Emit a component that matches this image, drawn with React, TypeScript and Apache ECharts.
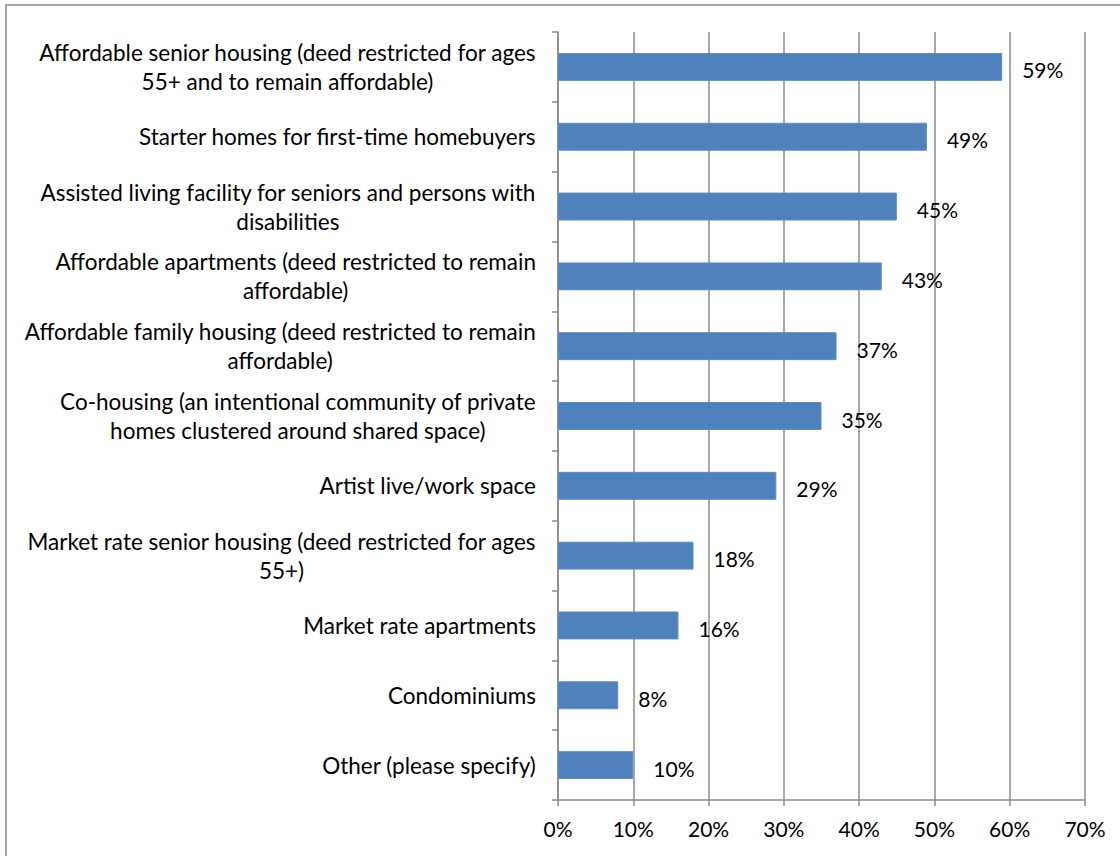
import React, { useEffect, useRef } from "react";
import * as echarts from "echarts";

const categories: string[] = [
  "Affordable senior housing (deed restricted for ages\n55+ and to remain affordable)",
  "Starter homes for first-time homebuyers",
  "Assisted living facility for seniors and persons with\ndisabilities",
  "Affordable apartments (deed restricted to remain\naffordable)",
  "Affordable family housing (deed restricted to remain\naffordable)",
  "Co-housing (an intentional community of private\nhomes clustered around shared space)",
  "Artist live/work space",
  "Market rate senior housing (deed restricted for ages\n55+)",
  "Market rate apartments",
  "Condominiums",
  "Other (please specify)",
];

const values: number[] = [59, 49, 45, 43, 37, 35, 29, 18, 16, 8, 10];

const FONT = "Lato, 'Open Sans', sans-serif";
const GRID_COLOR = "#8c8c8c";

export default function App() {
  const ref = useRef<HTMLDivElement>(null);

  useEffect(() => {
    if (!ref.current) return;
    const chart = echarts.init(ref.current, null, { renderer: "svg" });
    chart.setOption({
      animation: false,
      backgroundColor: "#ffffff",
      textStyle: { fontFamily: FONT },
      graphic: [
        {
          type: "rect",
          shape: { x: 6, y: 5, width: 1300, height: 1000 },
          style: { fill: "none", stroke: "#a6a6a6", lineWidth: 2 },
          silent: true,
        },
      ],
      grid: { left: 558, right: 35, top: 32, bottom: 56, containLabel: false },
      xAxis: {
        type: "value",
        min: 0,
        max: 70,
        interval: 10,
        axisLine: { show: true, lineStyle: { color: GRID_COLOR, width: 1.5 } },
        axisTick: { show: true, length: 6, lineStyle: { color: GRID_COLOR, width: 1.5 } },
        splitLine: { show: true, lineStyle: { color: GRID_COLOR, width: 1.5 } },
        axisLabel: {
          formatter: "{value}%",
          fontSize: 21,
          color: "#000",
          margin: 18,
          fontFamily: FONT,
        },
      },
      yAxis: {
        type: "category",
        inverse: true,
        data: categories,
        axisLine: { show: true, lineStyle: { color: GRID_COLOR, width: 1.5 } },
        axisTick: { show: true, length: 6, lineStyle: { color: GRID_COLOR, width: 1.5 } },
        splitLine: { show: false },
        axisLabel: {
          margin: 22,
          fontSize: 22.5,
          color: "#000",
          fontFamily: FONT,
          formatter: (v: string) =>
            v
              .split("\n")
              .map((l) => "{a|" + l + "}")
              .join("\n"),
          rich: {
            a: {
              align: "center",
              fontSize: 22.5,
              lineHeight: 29,
              color: "#000",
              fontFamily: FONT,
            },
          },
        },
      },
      series: [
        {
          type: "bar",
          data: values,
          barWidth: "40%",
          itemStyle: { color: "#4f81bd", borderColor: "#5b8cc6", borderWidth: 1 },
          label: {
            show: true,
            position: "right",
            distance: 20,
            offset: [0, 3],
            formatter: "{c}%",
            fontSize: 21,
            color: "#000",
            fontFamily: FONT,
          },
        },
      ],
    });
    return () => chart.dispose();
  }, []);

  return (
    <div
      ref={ref}
      style={{ position: "absolute", left: 0, top: 0, width: 1120, height: 856 }}
    />
  );
}
